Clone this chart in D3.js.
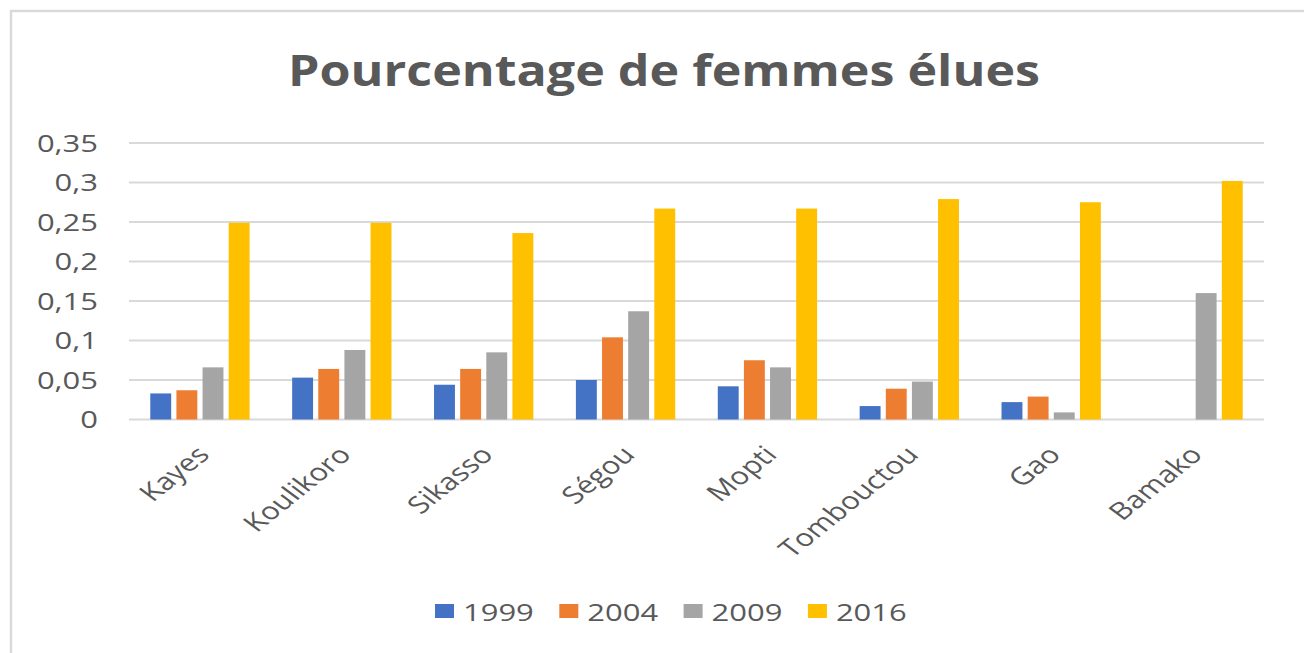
<!DOCTYPE html>
<html>
<head>
<meta charset="utf-8">
<script src="https://cdn.jsdelivr.net/npm/d3@7"></script>
<style>
  body { margin: 0; background: #fff; }
  text { font-family: 'Open Sans', sans-serif; fill: #595959; }
</style>
</head>
<body>
<svg id="chart" width="1304" height="653"></svg>
<script>
'use strict';

var regions = ['Kayes', 'Koulikoro', 'Sikasso', 'Ségou', 'Mopti', 'Tombouctou', 'Gao', 'Bamako'];
var years = ['1999', '2004', '2009', '2016'];
var values1999 = [0.033, 0.053, 0.044, 0.050, 0.042, 0.017, 0.022, 0];
var values2004 = [0.037, 0.064, 0.064, 0.104, 0.075, 0.039, 0.029, 0];
var values2009 = [0.066, 0.088, 0.085, 0.137, 0.066, 0.048, 0.009, 0.160];
var values2016 = [0.249, 0.249, 0.236, 0.267, 0.267, 0.279, 0.275, 0.302];
var yTicks = [0, 0.05, 0.1, 0.15, 0.2, 0.25, 0.3, 0.35];
var colors = ['#4472C4', '#ED7D31', '#A5A5A5', '#FFC000'];
var titleText = 'Pourcentage de femmes élues';

var series = [values1999, values2004, values2009, values2016];
var stretch = 1.29; // the picture is wider than it is tall

var svg = d3.select('#chart');

// frame
svg.append('rect')
    .attr('x', 11).attr('y', 11)
    .attr('width', 1320).attr('height', 670)
    .attr('fill', 'none')
    .attr('stroke', '#d9d9d9')
    .attr('stroke-width', 2.5);

var x0 = d3.scaleBand().domain(regions).range([129, 1264]).paddingInner(0.30).paddingOuter(0.15);
var x1 = d3.scaleBand().domain(years).range([0, x0.bandwidth()]).paddingInner(0.2);
var y = d3.scaleLinear().domain([0, 0.35]).range([419.5, 143]);

var fmt = function(d) { return String(d).replace('.', ','); };

// grid
svg.append('g').selectAll('line').data(yTicks).enter()
    .append('line')
        .attr('x1', 129).attr('x2', 1264)
        .attr('y1', function(d) { return y(d); })
        .attr('y2', function(d) { return y(d); })
        .attr('stroke', '#d9d9d9')
        .attr('stroke-width', 2);

svg.append('g').selectAll('text').data(yTicks).enter()
    .append('text')
        .attr('transform', function(d) { return 'translate(98,' + y(d) + ') scale(' + stretch + ',1)'; })
        .attr('text-anchor', 'end')
        .attr('dy', '0.36em')
        .style('font-size', '24px')
        .text(fmt);

// bars
var groups = svg.append('g').selectAll('g').data(regions).enter()
    .append('g')
        .attr('transform', function(d) { return 'translate(' + x0(d) + ',0)'; });

groups.selectAll('rect').data(function(d, i) {
        return years.map(function(yr, j) { return {year: yr, value: series[j][i], k: j}; });
    }).enter()
    .append('rect')
        .attr('x', function(d) { return x1(d.year); })
        .attr('width', x1.bandwidth())
        .attr('y', function(d) { return y(d.value); })
        .attr('height', function(d) { return y(0) - y(d.value); })
        .attr('fill', function(d) { return colors[d.k]; });

// category labels
svg.append('g').selectAll('text').data(regions).enter()
    .append('text')
        .attr('transform', function(d) {
            var cx = x0(d) + x0.bandwidth() / 2 + 11;
            return 'translate(' + cx + ',456) scale(' + stretch + ',1) rotate(-46)';
        })
        .attr('text-anchor', 'end')
        .style('font-size', '24px')
        .text(function(d) { return d; });

// title
var title = svg.append('text')
    .attr('text-anchor', 'middle')
    .style('font-size', '43px')
    .style('font-weight', 'bold')
    .text(titleText);
var tw = title.node().getComputedTextLength();
title.attr('transform', 'translate(664,86) scale(' + (752 / tw) + ',1)');

// legend
var legend = svg.append('g').selectAll('g').data(years).enter()
    .append('g')
        .attr('transform', function(d, i) { return 'translate(' + (435 + i * 124.3) + ',0)'; });
legend.append('rect')
    .attr('x', 0).attr('y', 604)
    .attr('width', 19).attr('height', 14)
    .attr('fill', function(d, i) { return colors[i]; });
legend.append('text')
    .attr('transform', 'translate(28,621) scale(' + stretch + ',1)')
    .style('font-size', '24px')
    .text(function(d) { return d; });
</script>
</body>
</html>
